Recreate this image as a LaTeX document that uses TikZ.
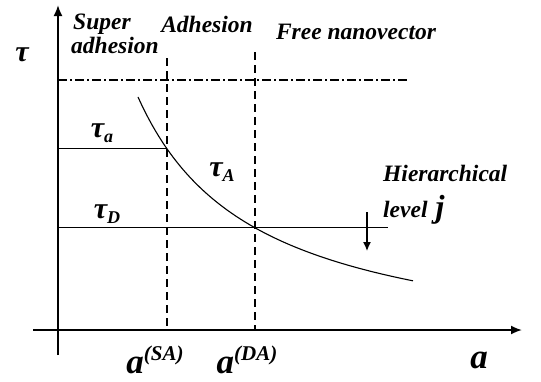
\documentclass[tikz,border=0pt]{standalone}
\usepackage{fontspec}
\setmainfont{Liberation Serif}
\usetikzlibrary{arrows.meta}
\begin{document}
\begin{tikzpicture}[x=1pt,y=-1pt,
  declare function={f(\x)=359.7-310/((\x-20)/100);},
  lbl/.style={font=\bfseries\itshape\fontsize{23.5}{26}\selectfont,inner sep=0pt},
  sym/.style={font=\bfseries\itshape\fontsize{30}{30}\selectfont,inner sep=0pt},
  bigsym/.style={font=\bfseries\itshape\fontsize{35}{35}\selectfont,inner sep=0pt},
  axis/.style={line width=1.8pt,-{Latex[length=11pt,width=9pt]}},
  guide/.style={line width=1.1pt,dash pattern=on 8pt off 5pt},
  level/.style={line width=1.1pt}]
\useasboundingbox (0,0) rectangle (541,381);
% axes
\coordinate (ytop) at (58,5);
\coordinate (ybot) at (58,355);
\coordinate (xleft) at (33,330);
\coordinate (xright) at (522,330);
\draw[axis] (ybot) -- (ytop);
\draw[axis] (xleft) -- (xright);
% boundaries
\coordinate (SA) at (167,{f(167)});
\coordinate (DA) at (255,{f(255)});
\coordinate (SAtop) at (167,58);
\coordinate (DAtop) at (255,52);
\draw[guide] (SAtop) -- (167,330);
\draw[guide] (DAtop) -- (255,330);
\draw[line width=1.1pt,dash pattern=on 9pt off 3pt on 2pt off 3pt] (58,80) -- (408,80);
\draw[level] (58,{f(167)}) -- (SA);
\draw[level] (58,{f(255)}) -- (388,{f(255)});
% curve
\draw[line width=1.1pt] plot[domain=138:413,samples=80] (\x,{f(\x)});
% arrow
\draw[line width=1.3pt,-{Latex[length=9pt,width=8pt]}] (367,212) -- (367,251);
% labels
\node[sym] (tau) at (22,55) {τ};
\node[lbl,anchor=west] (super) at (73,24) {Super};
\node[lbl,anchor=west] (adh) at (71,45) {adhesion};
\node[lbl] (adhesion) at (207,24) {Adhesion};
\node[lbl] (free) at (356,32) {Free nanovector};
\node[sym] (taua) at (102,133) {τ\raisebox{-5pt}{\fontsize{18}{18}\selectfont a}};
\node[sym] (tauA) at (222,172) {τ\raisebox{-5pt}{\fontsize{18}{18}\selectfont A}};
\node[sym] (tauD) at (107,214) {τ\raisebox{-5pt}{\fontsize{18}{18}\selectfont D}};
\node[lbl,anchor=west] (hier) at (383,173) {Hierarchical};
\node[lbl,anchor=west] (lev) at (383,210) {level\hspace{8pt}\fontsize{32}{32}\selectfont j};
\node[bigsym] (aSA) at (155,360) {a\raisebox{13pt}{\fontsize{21}{21}\selectfont (SA)}};
\node[bigsym] (aDA) at (247,360) {a\raisebox{13pt}{\fontsize{21}{21}\selectfont (DA)}};
\node[bigsym] (a) at (479,360) {a};
\end{tikzpicture}
\end{document}
